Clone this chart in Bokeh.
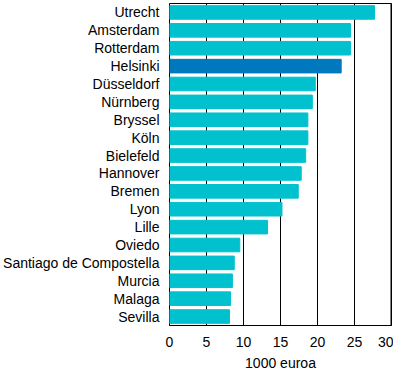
from bokeh.plotting import figure
from bokeh.models import FixedTicker, Span, ColumnDataSource, FactorRange, Range1d
from bokeh.embed import file_html
from bokeh.resources import INLINE

cities = ["Utrecht", "Amsterdam", "Rotterdam", "Helsinki", "Düsseldorf", "Nürnberg",
          "Bryssel", "Köln", "Bielefeld", "Hannover", "Bremen", "Lyon", "Lille",
          "Oviedo", "Santiago de Compostella", "Murcia", "Malaga", "Sevilla"]
values = [27.7, 24.45, 24.45, 23.2, 19.7, 19.3, 18.7, 18.7, 18.4, 17.8, 17.4,
          15.2, 13.25, 9.5, 8.75, 8.5, 8.25, 8.1]
highlight = "Helsinki"
x_ticks = [0, 5, 10, 15, 20, 25, 30]
x_label = "1000 euroa"

colors = ["#0078BE" if c == highlight else "#00C1CD" for c in cities]
src = ColumnDataSource(dict(city=cities, val=values, color=colors))

p = figure(width=393, height=373, output_backend="svg", toolbar_location=None,
           y_range=FactorRange(factors=list(reversed(cities)), range_padding=0),
           x_range=Range1d(0, 30),
           min_border_left=166, min_border_right=2, min_border_top=3,
           min_border_bottom=48)

p.hbar(y="city", right="val", left=0, height=0.76, color="color", source=src)

FONT = "Liberation Sans"
p.xaxis.ticker = FixedTicker(ticks=x_ticks)
p.xaxis.axis_label = x_label
p.xaxis.axis_label_text_font = FONT
p.xaxis.axis_label_text_font_size = "14px"
p.xaxis.axis_label_text_font_style = "normal"
p.xaxis.axis_label_text_color = "black"
p.xaxis.axis_label_standoff = 5
p.xaxis.major_label_text_font = FONT
p.xaxis.major_label_text_font_size = "14px"
p.xaxis.major_label_text_color = "black"
p.xaxis.major_label_standoff = 11
p.xaxis.major_tick_out = 0
p.xaxis.major_tick_in = 0
p.xaxis.minor_tick_out = 0
p.xaxis.minor_tick_in = 0
p.xaxis.major_tick_line_color = None
p.xaxis.minor_tick_line_color = None
p.xaxis.axis_line_color = "black"

p.yaxis.major_label_text_font = FONT
p.yaxis.major_label_text_font_size = "14px"
p.yaxis.major_label_text_color = "black"
p.yaxis.major_label_standoff = 10
p.yaxis.major_tick_out = 0
p.yaxis.major_tick_in = 0
p.yaxis.minor_tick_out = 0
p.yaxis.minor_tick_in = 0
p.yaxis.major_tick_line_color = None
p.yaxis.minor_tick_line_color = None
p.yaxis.axis_line_color = None

p.xgrid.ticker = FixedTicker(ticks=x_ticks)
p.xgrid.grid_line_color = "black"
p.xgrid.grid_line_width = 1
p.ygrid.grid_line_color = None

p.outline_line_color = "black"
p.outline_line_width = 1
p.add_layout(Span(location=30, dimension="height", line_color="black", line_width=2))

p.background_fill_color = "white"
p.border_fill_color = "white"

open("out.html", "w").write(file_html(p, INLINE))
